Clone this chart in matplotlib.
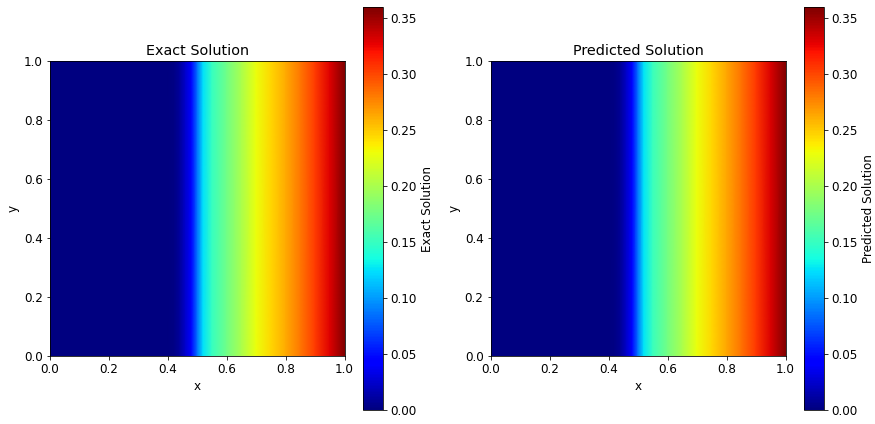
import numpy as np
import matplotlib
matplotlib.use("Agg")
import matplotlib.pyplot as plt

# Profile along x (solution is constant in y)
x_pts = [0.0, 0.40, 0.42, 0.44, 0.46, 0.48, 0.50, 0.52, 0.55, 0.60, 0.65, 0.70, 0.75, 0.80, 0.85, 0.90, 0.95, 1.0]
exact_u = [0.0, 0.0, 0.002, 0.009, 0.024, 0.045, 0.085, 0.125, 0.15, 0.175, 0.20, 0.228, 0.245, 0.262, 0.282, 0.305, 0.33, 0.36]
pred_u = [0.0, 0.0, 0.002, 0.008, 0.023, 0.044, 0.086, 0.126, 0.151, 0.176, 0.201, 0.228, 0.246, 0.263, 0.283, 0.306, 0.331, 0.359]
y_pts = [0.0, 1.0]

plt.rcParams["font.size"] = 12

W, H = 875, 424
fig = plt.figure(figsize=(W / 72, H / 72), dpi=72)

def box(l, t, r, b):
    return [l / W, (H - b) / H, (r - l) / W, (b - t) / H]

panels = [
    ("Exact Solution", exact_u, box(50, 60.7, 344.5, 356), box(362.7, 7.3, 383.3, 409.7)),
    ("Predicted Solution", pred_u, box(490.5, 60.7, 785.5, 356), box(803.5, 7.3, 824.2, 409.7)),
]

for title, u, apos, cpos in panels:
    ax = fig.add_axes(apos)
    cax = fig.add_axes(cpos)
    Z = np.array([u, u])
    m = ax.pcolormesh(np.array(x_pts), np.array(y_pts), Z, shading="gouraud",
                      cmap="jet", vmin=0.0, vmax=0.36)
    ax.set_xlim(0, 1)
    ax.set_ylim(0, 1)
    ax.set_title(title, fontsize=14.4)
    ax.set_xlabel("x")
    ax.set_ylabel("y")
    cb = fig.colorbar(m, cax=cax)
    cb.set_label(title)
    cb.set_ticks([0, 0.05, 0.10, 0.15, 0.20, 0.25, 0.30, 0.35])

fig.savefig("out.png", dpi=72)
